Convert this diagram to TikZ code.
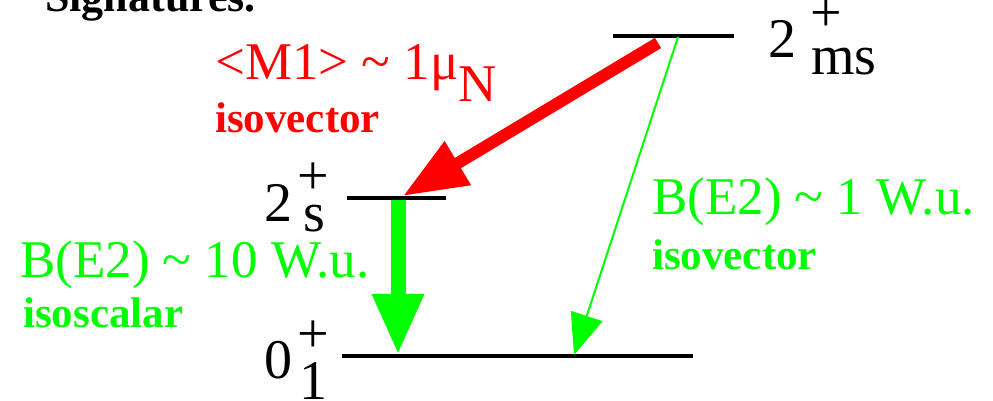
\documentclass[tikz,border=0pt]{standalone}
\usepackage{fontspec}
\setmainfont{Liberation Serif}
\usetikzlibrary{arrows.meta}
\definecolor{mone}{HTML}{FF0000}
\definecolor{etwo}{HTML}{00FF00}
\tikzset{
  level/.style={black, line width=3.8pt},
  txt/.style={anchor=base west, inner sep=0pt, font=\fontsize{53}{62}\selectfont},
  tag/.style={anchor=base west, inner sep=0pt, font=\fontsize{43}{50}\selectfont\bfseries},
  spin/.style={anchor=base west, inner sep=0pt, font=\fontsize{56}{66}\selectfont}}

\begin{document}
\begin{tikzpicture}[x=1pt,y=1pt]
\useasboundingbox (0,0) rectangle (993,401);
\clip (0,0) rectangle (993,401);
% heading, cut by the top edge
\node[tag, font=\fontsize{44}{50}\selectfont\bfseries] (head) at (45,389) {Signatures.};
% levels
\draw[level] (613,365) coordinate (msL) -- (734,365) coordinate (msR);
\draw[level] (347,203) coordinate (sL) -- (446,203) coordinate (sR);
\draw[level] (342,45) coordinate (gL) -- (693,45) coordinate (gR);
% level labels
\node[spin] (ms2) at (768,343) {2};
\node[spin] (msp) at (810,369) {+};
\node[spin] (mss) at (811,326) {ms};
\node[spin] (s2) at (264,179) {2};
\node[spin] (sp) at (297,206) {+};
\node[spin] (ss) at (303,169) {s};
\node[spin] (g0) at (264,22) {0};
\node[spin] (gp) at (297,48) {+};
\node[spin] (g1) at (299,1) {1};
% transitions
\coordinate (redA) at (658,358); \coordinate (redB) at (403,205);
\coordinate (isA) at (398,201); \coordinate (isB) at (398,46);
\coordinate (ivA) at (678,364); \coordinate (ivB) at (574,46);
\draw[mone, line width=12pt, -{Triangle[length=64pt,width=48pt]}] (redA) -- (redB);
\draw[etwo, line width=15pt, -{Triangle[length=61pt,width=48pt]}] (isA) -- (isB);
\draw[etwo, line width=2pt, -{Triangle[length=41pt,width=33pt]}] (ivA) -- (ivB);
% transition labels
\node[txt, mone] (m1) at (215,321) {<M1> \textasciitilde{} 1μ\raisebox{-22pt}{N}};
\node[tag, mone] (m1t) at (215,268) {isovector};
\node[txt, etwo] (e2s) at (20,123) {B(E2) \textasciitilde{} 10 W.u.};
\node[tag, etwo] (e2st) at (23,73) {isoscalar};
\node[txt, etwo] (e2v) at (652,186) {B(E2) \textasciitilde{} 1 W.u.};
\node[tag, etwo] (e2vt) at (652,131) {isovector};
\end{tikzpicture}
\end{document}
